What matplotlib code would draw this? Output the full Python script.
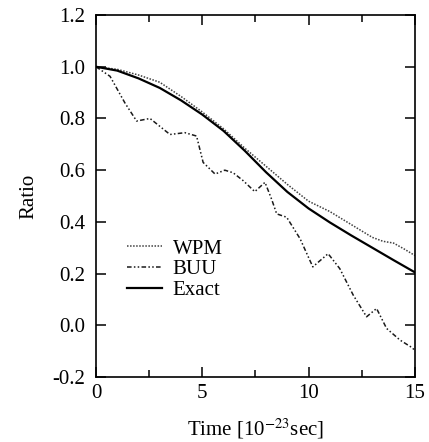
import matplotlib
matplotlib.use("Agg")
import matplotlib.pyplot as plt
from matplotlib.ticker import MultipleLocator, FormatStrFormatter

# data
t_exact = [0, 1, 2, 3, 4, 5, 6, 7, 8, 9, 10, 11, 12, 13, 14, 15]
exact = [1.0, 0.985, 0.955, 0.918, 0.87, 0.815, 0.752, 0.675, 0.592, 0.516,
         0.452, 0.398, 0.348, 0.30, 0.252, 0.205]

t_wpm = [0, 1, 2, 3, 4, 5, 6, 7, 8, 9, 10, 11, 12, 13, 13.5, 14, 14.5, 15]
wpm = [1.0, 0.99, 0.968, 0.94, 0.885, 0.825, 0.76, 0.685, 0.615, 0.545,
       0.48, 0.44, 0.39, 0.34, 0.325, 0.318, 0.295, 0.27]

t_buu = [0, 0.66, 1.36, 1.91, 2.54, 3.48, 4.18, 4.73, 5.04, 5.6, 6.06, 6.45,
         6.93, 7.47, 7.95, 8.26, 8.5, 8.97, 9.6, 10.2, 10.92, 11.47, 12.1,
         12.73, 13.2, 13.67, 14.3, 14.9, 15]
buu = [1.0, 0.963, 0.86, 0.79, 0.80, 0.738, 0.745, 0.732, 0.63, 0.585, 0.60,
       0.59, 0.559, 0.517, 0.553, 0.488, 0.431, 0.418, 0.335, 0.226, 0.277,
       0.219, 0.117, 0.033, 0.065, -0.012, -0.057, -0.088, -0.1]

plt.rcParams['font.family'] = ['Liberation Serif', 'DejaVu Serif']
plt.rcParams['mathtext.fontset'] = 'stix'

fig = plt.figure(figsize=(4.29, 4.42), dpi=100)
ax = fig.add_axes([0.2238, 0.147, 0.7432, 0.819])

ax.plot(t_wpm, wpm, color='0.25', lw=1.1, ls=(0, (1, 1)), label='WPM')
ax.plot(t_buu, buu, color='0.1', lw=1.1, ls=(0, (3, 1.5, 1, 1.5, 1, 1.5)), label='BUU')
ax.plot(t_exact, exact, color='black', lw=1.6, label='Exact')

ax.set_xlim(0, 15)
ax.set_ylim(-0.2, 1.2)
ax.xaxis.set_major_locator(MultipleLocator(5))
ax.xaxis.set_minor_locator(MultipleLocator(2.5))
ax.yaxis.set_major_locator(MultipleLocator(0.2))
ax.yaxis.set_major_formatter(FormatStrFormatter('%.1f'))
ax.tick_params(which='both', direction='in', top=True, right=True, labelsize=15)
ax.tick_params(which='major', length=7, width=1.1, pad=5)
ax.tick_params(which='minor', length=5, width=1.1)
ax.tick_params(axis='y', pad=8)
for s in ax.spines.values():
    s.set_linewidth(1.2)

ax.set_xlabel('Time [10$^{-23}$sec]', fontsize=15, labelpad=10)
ax.set_ylabel('Ratio', fontsize=15, labelpad=10)

ax.legend(loc='lower left', bbox_to_anchor=(0.07, 0.19), frameon=False,
          fontsize=15, handlelength=1.7, handletextpad=0.5, labelspacing=0.05,
          borderaxespad=0)

fig.savefig('out.png', dpi=100)
